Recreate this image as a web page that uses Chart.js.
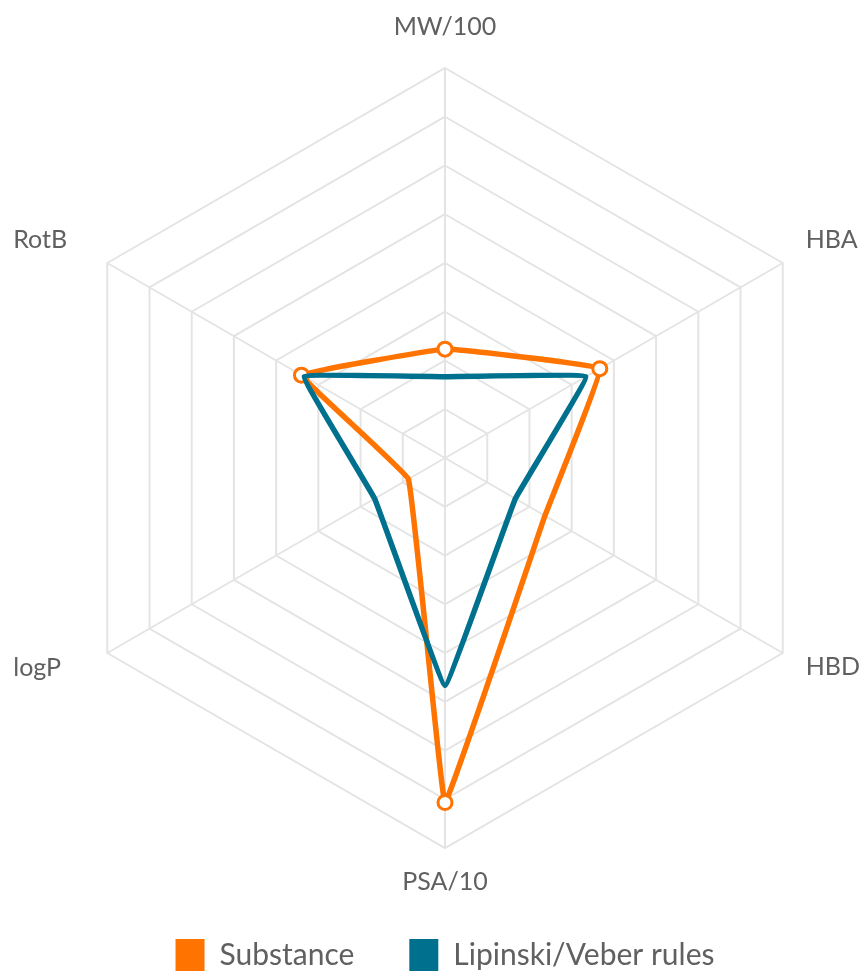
<!DOCTYPE html>
<html>
<head>
<meta charset="utf-8">
<script src="https://cdn.jsdelivr.net/npm/chart.js@4.4.1/dist/chart.umd.min.js"></script>
<style>
  body { margin: 0; background: #fff; }
  canvas { display: block; }
</style>
</head>
<body>
<canvas id="radar" width="862" height="975"></canvas>
<script>
// axes, clockwise from the top
const axes = ['MW/100', 'HBA', 'HBD', 'PSA/10', 'logP', 'RotB'];
const substance = [6.7, 11, 7.1, 21.2, 2.6, 10.2];
const rules = [5, 10, 5, 14, 5, 10];
const seriesNames = ['Substance', 'Lipinski/Veber rules'];
// which substance values get a marker
const substanceMarked = [true, true, false, true, false, true];
const scaleMax = 24;
const scaleStep = 3;

const orange = '#ff7300';
const blue = '#00708f';
const gridColor = '#e4e4e4';
const textColor = '#606060';

// where each axis name sits relative to its outer vertex: [dx, dy, align]
const labelOffsets = [
    [0, -33.5, 'center'],
    [23, -15, 'left'],
    [23, 22, 'left'],
    [0, 42, 'center'],
    [-94, 23, 'left'],
    [-94, -15, 'left']
];

const axisLabels = {
    id: 'axisLabels',
    afterDraw(chart) {
        const r = chart.scales.r;
        const ctx = chart.ctx;
        ctx.save();
        ctx.font = '25px Lato';
        ctx.fillStyle = textColor;
        ctx.textBaseline = 'alphabetic';
        axes.forEach((name, i) => {
            const p = r.getPointPosition(i, r.drawingArea);
            const off = labelOffsets[i];
            ctx.textAlign = off[2];
            ctx.fillText(name, p.x + off[0], p.y + off[1]);
        });
        ctx.restore();
    }
};

const ctx = document.getElementById('radar').getContext('2d');
new Chart(ctx, {
    type: 'radar',
    data: {
        labels: axes,
        datasets: [
            {
                label: seriesNames[0],
                data: substance,
                borderColor: orange,
                backgroundColor: orange,
                borderWidth: 5.5,
                fill: false,
                tension: 0.05,
                pointRadius: substanceMarked.map(m => m ? 7 : 0),
                pointBorderWidth: 3,
                pointBorderColor: orange,
                pointBackgroundColor: '#ffffff'
            },
            {
                label: seriesNames[1],
                data: rules,
                borderColor: blue,
                backgroundColor: blue,
                borderWidth: 5.5,
                fill: false,
                tension: 0.05,
                pointRadius: 0,
                order: -1
            }
        ]
    },
    options: {
        responsive: false,
        animation: false,
        layout: {
            padding: { left: 55, right: 27, top: 32, bottom: 0 }
        },
        scales: {
            r: {
                min: 0,
                max: scaleMax,
                ticks: { display: false, stepSize: scaleStep },
                grid: { color: gridColor, lineWidth: 2 },
                angleLines: { color: gridColor, lineWidth: 2 },
                pointLabels: { display: false }
            }
        },
        plugins: {
            tooltip: { enabled: false },
            legend: {
                position: 'bottom',
                maxHeight: 91,
                labels: {
                    font: { family: 'Lato', size: 30 },
                    color: textColor,
                    boxWidth: 29,
                    boxHeight: 32,
                    padding: 55,
                    sort: (a, b) => a.datasetIndex - b.datasetIndex,
                    generateLabels: (chart) =>
                        Chart.defaults.plugins.legend.labels.generateLabels(chart)
                            .map(l => Object.assign(l, { lineWidth: 0, strokeStyle: l.fillStyle }))
                }
            }
        }
    },
    plugins: [axisLabels]
});
</script>
</body>
</html>
